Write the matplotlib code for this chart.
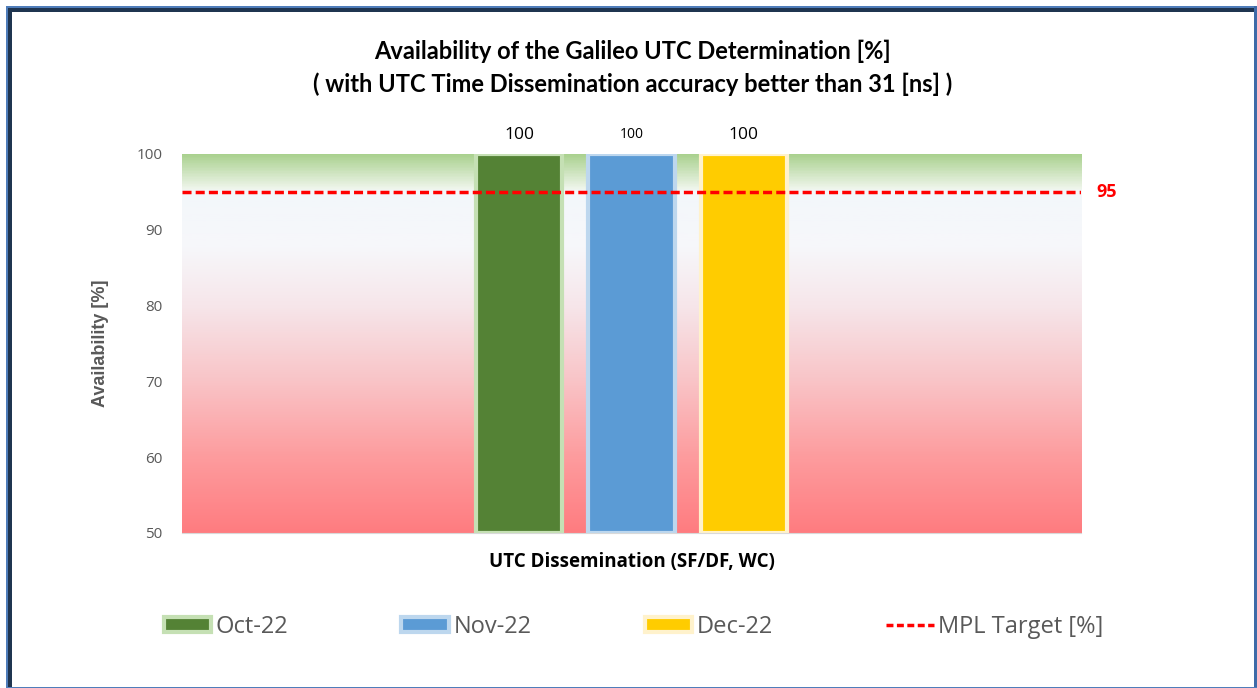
'''
plot.py

Availability of the Galileo UTC determination, Oct-Dec 2022
'''

import matplotlib as mpl
mpl.use('Agg')
import matplotlib.pyplot as plt
import matplotlib.patches as mpatches
from matplotlib.lines import Line2D
from matplotlib.colors import LinearSegmentedColormap
import numpy as np

# ---------------------------------------------------------------------------- #

months = ['Oct-22', 'Nov-22', 'Dec-22']
availability = [100, 100, 100]
target = 95
category = 'UTC Dissemination (SF/DF, WC)'

face_colors = ['#548235', '#5B9BD5', '#FFCC00']
edge_colors = ['#C5E0B4', '#BDD7EE', '#FFF2CC']
label_sizes = [12.5, 10, 12.5]

grey = '#595959'

# ---------------------------------------------------------------------------- #

fig = plt.figure(figsize=(12.57, 6.88), dpi=100)
ax = fig.add_axes([0.1448, 0.2253, 0.7152, 0.5509])

# Background gradient (red at the bottom, green at the top).
stops = [(0.00, '#FF7C80'), (0.20, '#FD9C9E'), (0.40, '#F9C4C7'),
         (0.60, '#F6E6EA'), (0.75, '#F7F7FA'), (0.90, '#F3F7FB'),
         (0.91, '#EEF5EA'), (1.00, '#A9D18E')]
cmap = LinearSegmentedColormap.from_list('bg', stops)
grad = np.linspace(0, 1, 400).reshape(-1, 1)
ax.imshow(grad, cmap=cmap, aspect='auto', origin='lower',
          extent=[-0.5, 0.5, 50, 100], zorder=0)

# Bars.
offsets = [-0.125, 0.0, 0.125]
for i in range(len(months)):
    ax.bar(offsets[i], availability[i] - 50, bottom=50, width=0.096,
           color=face_colors[i], edgecolor=edge_colors[i], linewidth=3,
           zorder=2)
    ax.annotate(str(availability[i]), (offsets[i], availability[i]),
                xytext=(0, 14), textcoords='offset points', ha='center',
                va='center', fontsize=label_sizes[i], family='Open Sans',
                color='black')

# Target line.
ax.axhline(target, color='#FF0000', linewidth=2.5, linestyle=(0, (2.6, 1.2)),
           zorder=3)
ax.annotate(str(target), (1.0, target), xycoords=('axes fraction', 'data'),
            xytext=(11, 0), textcoords='offset points', ha='left',
            va='center', fontsize=13, fontweight='bold', color='#FF0000',
            family='Open Sans')

ax.set_xlim(-0.5, 0.5)
ax.set_ylim(50, 100)
ax.set_yticks(np.arange(50, 101, 10))
ax.set_xticks([])
ax.tick_params(axis='y', length=0, pad=14, labelsize=11, labelcolor=grey)
for lab in ax.get_yticklabels():
    lab.set_family('Open Sans')
for side in ['top', 'right', 'left']:
    ax.spines[side].set_visible(False)
ax.spines['bottom'].set_color('#D9D9D9')

ax.set_xlabel(category, fontsize=13.5, fontweight='bold', family='Open Sans',
              labelpad=14)
ax.set_ylabel('Availability [%]', fontsize=13, fontweight='bold',
              family='Liberation Sans', color=grey, labelpad=20)

# Title.
fig.text(0.503, 0.925, 'Availability of the Galileo UTC Determination [%]',
         ha='center', va='center', fontsize=17, fontweight='bold', family='Lato')
fig.text(0.503, 0.877, '( with UTC Time Dissemination accuracy better than 31 [ns] )',
         ha='center', va='center', fontsize=17, fontweight='bold', family='Lato')

# Legend.
handles = [mpatches.Patch(facecolor=face_colors[i], edgecolor=edge_colors[i],
                          linewidth=3, label=months[i]) for i in range(3)]
handles.append(Line2D([0], [0], color='#FF0000', linewidth=2.5,
                      linestyle=(0, (2.0, 1.0)), label='MPL Target [%]'))
leg = fig.legend(handles=handles, loc='center', bbox_to_anchor=(0.504, 0.0887),
                 ncol=4, frameon=False, handlelength=2.0, handleheight=0.6,
                 handletextpad=0.2, columnspacing=4.8,
                 prop={'family': 'Open Sans', 'size': 17})
for t in leg.get_texts():
    t.set_color(grey)

# Frame around the chart.
W, H = 1257.0, 688.0
def frame(x0, y0, x1, y1, color):
    fig.patches.append(mpatches.Rectangle((x0 / W, 1 - y1 / H), (x1 - x0) / W,
                                          (y1 - y0) / H, transform=fig.transFigure,
                                          facecolor=color, edgecolor='none'))
frame(6, 6, 1257, 7.5, '#4F7DBA')
frame(8, 7.5, 1257, 12, '#1F3550')
frame(6, 6, 8, 688, '#4F7DBA')
frame(8, 12, 12, 688, '#1F3550')
frame(1254, 6, 1257, 688, '#3E6BA8')
frame(6, 686.5, 1257, 688, '#4F7DBA')

fig.savefig('out.png', dpi=100)
